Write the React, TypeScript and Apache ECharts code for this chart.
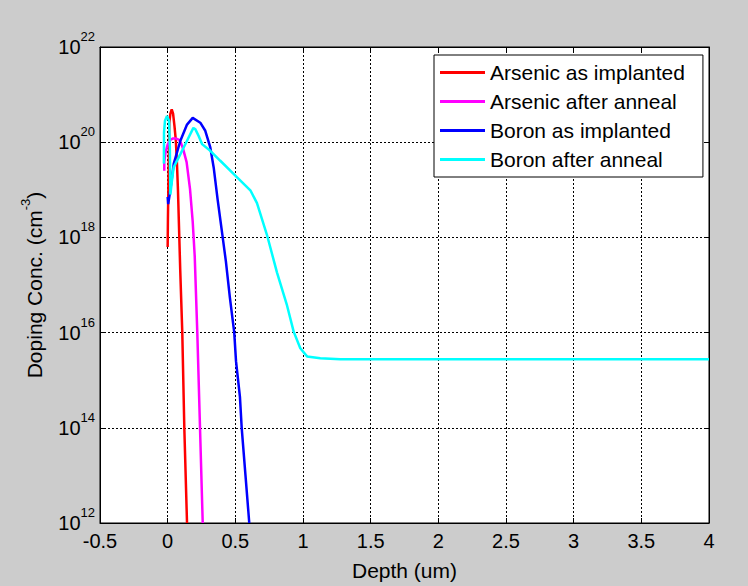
import React, { useEffect, useRef } from "react";
import * as echarts from "echarts";

// Series names (legend order)
const seriesNames = [
  "Arsenic as implanted",
  "Arsenic after anneal",
  "Boron as implanted",
  "Boron after anneal",
];
const seriesColors = ["#ff0000", "#ff00ff", "#0000ff", "#00ffff"];

// Depth in um, concentration as log10(cm^-3)
const arsenicImplantedDepth = [0, 0.002, 0.006, 0.012, 0.02, 0.03, 0.04, 0.05, 0.06, 0.068, 0.076, 0.086, 0.093, 0.108, 0.123, 0.143];
const arsenicImplantedLog = [17.8, 18.4, 19.2, 20.4, 20.6, 20.69, 20.6, 20.35, 20.05, 19.6, 19.0, 18.0, 17.3, 16.0, 14.0, 12.0];

const arsenicAnnealDepth = [-0.025, -0.025, -0.015, 0.0, 0.02, 0.04, 0.06, 0.085, 0.1, 0.115, 0.14, 0.165, 0.185, 0.2, 0.219, 0.239, 0.259];
const arsenicAnnealLog = [19.4, 19.6, 19.8, 19.95, 20.05, 20.08, 20.08, 20.05, 19.97, 19.85, 19.58, 19.02, 18.33, 17.6, 16.0, 14.0, 12.0];

const boronImplantedDepth = [0, 0.004, 0.02, 0.045, 0.094, 0.143, 0.185, 0.241, 0.278, 0.315, 0.34, 0.369, 0.402, 0.43, 0.46, 0.492, 0.505, 0.534, 0.547, 0.575, 0.603];
const boronImplantedLog = [18.85, 18.7, 19.0, 19.55, 20.03, 20.37, 20.51, 20.41, 20.24, 19.89, 19.47, 18.8, 18.1, 17.5, 16.73, 16.0, 15.4, 14.65, 14.0, 13.0, 12.0];

const boronAnnealDepth = [-0.028, -0.027, -0.02, -0.005, 0.01, 0.016, 0.02, 0.03, 0.044, 0.094, 0.143, 0.19, 0.205, 0.229, 0.254, 0.315, 0.389, 0.5, 0.611, 0.66, 0.734, 0.808, 0.882, 0.931, 0.98, 1.03, 1.128, 1.275, 2, 3, 4];
const boronAnnealLog = [19.55, 20.2, 20.45, 20.55, 20.45, 19.9, 18.9, 19.15, 19.47, 19.75, 20.03, 20.3, 20.27, 20.13, 19.96, 19.82, 19.61, 19.3, 18.99, 18.72, 18.05, 17.26, 16.57, 16.02, 15.67, 15.5, 15.46, 15.44, 15.44, 15.44, 15.44];

// Axis ranges
const xMin = -0.5;
const xMax = 4;
const xStep = 0.5;
const yExpMin = 12;
const yExpMax = 22;
const yExpStep = 2;

const FONT = "'Liberation Sans', Arial, Helvetica, sans-serif";

export default function App() {
  const ref = useRef<HTMLDivElement>(null);

  useEffect(() => {
    if (!ref.current) return;
    const chart = echarts.init(ref.current, null, { renderer: "svg" });
    const pair = (xs: number[], ys: number[]) => xs.map((x, i) => [x, ys[i]]);
    const allData = [
      pair(arsenicImplantedDepth, arsenicImplantedLog),
      pair(arsenicAnnealDepth, arsenicAnnealLog),
      pair(boronImplantedDepth, boronImplantedLog),
      pair(boronAnnealDepth, boronAnnealLog),
    ];

    const black = "#000000";
    const dotted = { color: black, width: 1, type: [2, 2] as any };

    chart.setOption({
      animation: false,
      backgroundColor: "#cccccc",
      textStyle: { fontFamily: FONT },
      grid: {
        left: 100,
        top: 47,
        right: 39,
        bottom: 59,
        show: true,
        backgroundColor: "#ffffff",
        borderColor: black,
        borderWidth: 1,
      },
      xAxis: [
        {
          type: "value",
          min: xMin,
          max: xMax,
          interval: xStep,
          position: "bottom",
          axisLine: { show: true, onZero: false, lineStyle: { color: black } },
          axisTick: { show: true, inside: true, length: 5, lineStyle: { color: black } },
          axisLabel: { color: black, fontSize: 20, margin: 8, fontFamily: FONT },
          splitLine: { show: true, lineStyle: dotted },
          name: "Depth (um)",
          nameLocation: "middle",
          nameGap: 37,
          nameTextStyle: { color: black, fontSize: 21, fontFamily: FONT },
        },
        {
          type: "value",
          min: xMin,
          max: xMax,
          interval: xStep,
          position: "top",
          axisLine: { show: true, onZero: false, lineStyle: { color: black } },
          axisTick: { show: true, inside: true, length: 5, lineStyle: { color: black } },
          axisLabel: { show: false },
          splitLine: { show: false },
        },
      ],
      yAxis: [
        {
          type: "value",
          min: yExpMin,
          max: yExpMax,
          interval: yExpStep,
          position: "left",
          axisLine: { show: true, onZero: false, lineStyle: { color: black } },
          axisTick: { show: true, inside: true, length: 5, lineStyle: { color: black } },
          axisLabel: {
            margin: 5,
            formatter: (v: number) => `{b|10}{s|${v}}`,
            rich: {
              b: { fontSize: 20, color: black, lineHeight: 34, fontFamily: FONT },
              s: { fontSize: 13, color: black, lineHeight: 12, verticalAlign: "top", fontFamily: FONT },
            },
          },
          splitLine: { show: true, lineStyle: dotted },
          name: "{a|Doping Conc. (cm}{s|-3}{a|)}",
          nameLocation: "middle",
          nameRotate: 90,
          nameGap: 51,
          nameTextStyle: {
            rich: {
              a: { fontSize: 21, color: black, lineHeight: 30, fontFamily: FONT },
              s: { fontSize: 13, color: black, lineHeight: 12, verticalAlign: "top", fontFamily: FONT },
            },
          },
        },
        {
          type: "value",
          min: yExpMin,
          max: yExpMax,
          interval: yExpStep,
          position: "right",
          axisLine: { show: true, onZero: false, lineStyle: { color: black } },
          axisTick: { show: true, inside: true, length: 5, lineStyle: { color: black } },
          axisLabel: { show: false },
          splitLine: { show: false },
        },
      ],
      legend: {
        orient: "vertical",
        left: 434,
        top: 55,
        backgroundColor: "#ffffff",
        borderColor: black,
        borderWidth: 1,
        borderRadius: 0,
        padding: [3, 18, 3, 6],
        itemGap: 0,
        icon: "rect",
        itemWidth: 45,
        itemHeight: 3,
        textStyle: { fontSize: 21, color: black, lineHeight: 29, fontFamily: FONT },
        data: seriesNames,
      },
      series: seriesNames.map((name, i) => ({
        name,
        type: "line",
        xAxisIndex: 0,
        yAxisIndex: 0,
        data: allData[i],
        symbol: "none",
        showSymbol: false,
        color: seriesColors[i],
        lineStyle: { color: seriesColors[i], width: 2.5 },
        itemStyle: { color: seriesColors[i] },
      })),
    });

    return () => chart.dispose();
  }, []);

  return (
    <div
      ref={ref}
      style={{ position: "absolute", left: 0, top: 0, width: 748, height: 586 }}
    />
  );
}
